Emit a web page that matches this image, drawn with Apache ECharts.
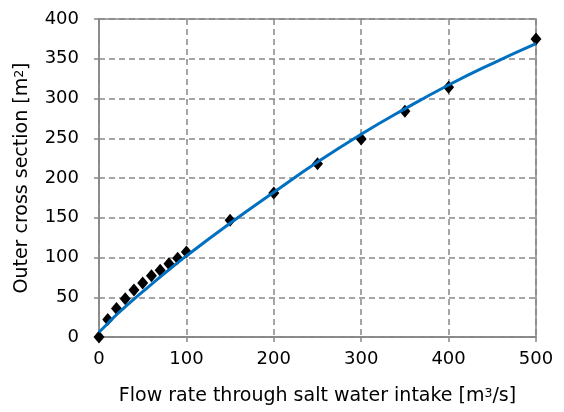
<!DOCTYPE html>
<html><head><meta charset="utf-8">
<script src="https://cdn.jsdelivr.net/npm/echarts@6/dist/echarts.min.js"></script>
<style>html,body{margin:0;padding:0;background:#fff}#c{width:564px;height:412px}</style>
</head><body><div id="c"></div>
<script>
const pointX = [0,10,20,30,40,50,60,70,80,90,100,150,200,250,300,350,400,500];
const pointY = [0,22,36,48,59,68,77,84,92,99,107,147,181,218,249,284,314,375];
const fitX = [0,10,20,30,50,75,100,150,200,250,300,350,400,450,500];
const fitY = [6,17,28,38,57,80,102,143,182,220,255,287,317,344,369];
const xTicks = [0,100,200,300,400,500];
const yTicks = [0,50,100,150,200,250,300,350,400];

const font = 'DejaVu Sans, Verdana, sans-serif';
const chart = echarts.init(document.getElementById('c'));
const sup = {fontSize: 12.5, verticalAlign: 'top', lineHeight: 14, padding:[0,0,7,0], fontFamily: font, color:'#000'};
chart.setOption({
  animation: false,
  grid: {left: 99, right: 28, top: 19, bottom: 75, show: true, borderColor: '#888', borderWidth: 1.5},
  xAxis: {
    type: 'value', min: 0, max: 500, interval: 100,
    name: 'Flow rate through salt water intake [m{sup|3}/s]',
    nameLocation: 'middle', nameGap: 50,
    nameTextStyle: {fontSize: 19, color: '#000', fontFamily: font, rich: {sup: sup}},
    axisLine: {lineStyle: {color: '#888', width: 1.5}},
    axisTick: {show: true, length: 5, lineStyle: {color: '#888', width: 1.5}},
    axisLabel: {fontSize: 18, color: '#000', fontFamily: font, margin: 13, formatter: v => xTicks.includes(v) ? String(v) : ''},
    splitLine: {show: true, lineStyle: {color: '#888', type: [6,4], width: 1.5}}
  },
  yAxis: {
    type: 'value', min: 0, max: 400, interval: 50,
    name: 'Outer cross section [m{sup|2}]',
    nameLocation: 'middle', nameGap: 67,
    nameTextStyle: {fontSize: 19, color: '#000', fontFamily: font, rich: {sup: sup}},
    axisLine: {show: true, lineStyle: {color: '#888', width: 1.5}},
    axisTick: {show: true, length: 5, lineStyle: {color: '#888', width: 1.5}},
    axisLabel: {fontSize: 18, color: '#000', fontFamily: font, margin: 20, formatter: v => yTicks.includes(v) ? String(v) : ''},
    splitLine: {show: true, lineStyle: {color: '#888', type: [6,4], width: 1.5}}
  },
  series: [
    {
      type: 'line', data: fitX.map((x,i)=>[x, fitY[i]]), smooth: true, showSymbol: false,
      lineStyle: {color: '#0070C0', width: 3}, z: 3
    },
    {
      type: 'scatter', data: pointX.map((x,i)=>[x, pointY[i]]),
      symbol: 'diamond', symbolSize: [11, 13], itemStyle: {color: '#000', opacity: 1}, z: 2
    }
  ]
});
</script></body></html>
